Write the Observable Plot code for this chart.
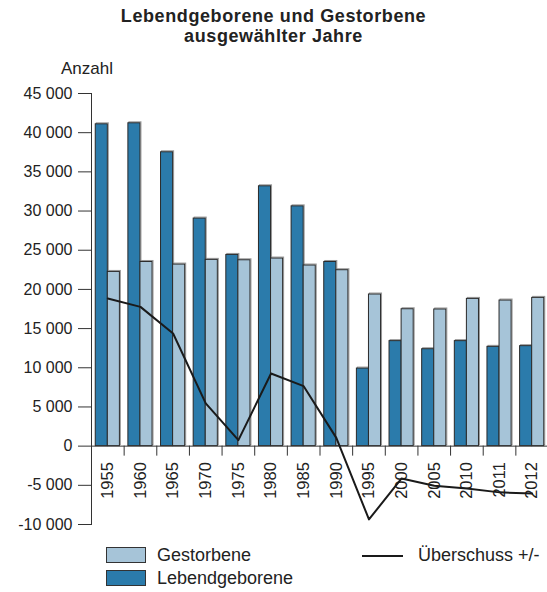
<!DOCTYPE html>
<html><head><meta charset="utf-8">
<script src="https://cdn.jsdelivr.net/npm/d3@7"></script>
<script src="https://cdn.jsdelivr.net/npm/@observablehq/plot@0.6"></script>
<style>
body{margin:0;background:#fff;font-family:"Liberation Sans",Arial,sans-serif;color:#222;}
#wrap{position:relative;width:547px;height:592px;overflow:hidden;}
#chart{position:absolute;left:0;top:0;}
#title{position:absolute;left:0;width:547px;top:6px;text-align:center;font-weight:bold;font-size:18px;letter-spacing:0.6px;line-height:20px;}
#anzahl{position:absolute;left:61px;top:59px;font-size:17px;}
.lg{position:absolute;font-size:18px;line-height:20px;}
.sw{position:absolute;width:40px;height:16px;border:1px solid #333;box-sizing:border-box;}
.ln{position:absolute;width:41px;height:0;border-top:2px solid #1a1a1a;}
</style></head><body>
<div id="wrap">
<div id="chart"></div>
<div id="title">Lebendgeborene und Gestorbene<br>ausgewählter Jahre</div>
<div id="anzahl">Anzahl</div>
<div class="sw" style="left:106px;top:547px;background:#a6c4d8"></div>
<div class="lg" style="left:157px;top:545px">Gestorbene</div>
<div class="sw" style="left:106px;top:570px;background:#2b7bab"></div>
<div class="lg" style="left:157px;top:568px">Lebendgeborene</div>
<div class="ln" style="left:362px;top:555px"></div>
<div class="lg" style="left:418px;top:545px">Überschuss +/-</div>
</div>
<script>
const years = ["1955","1960","1965","1970","1975","1980","1985","1990","1995","2000","2005","2010","2011","2012"];
const lebendgeborene = [41070,41200,37500,29040,24400,33160,30600,23500,9900,13400,12370,13400,12670,12760];
const gestorbene = [22230,23500,23170,23770,23720,23940,23050,22450,19350,17470,17440,18790,18580,18920];
const ueberschuss = [18840,17770,14370,5450,770,9270,7650,1050,-9350,-4120,-5060,-5400,-5900,-6040];
const yTicks = [-10000,-5000,0,5000,10000,15000,20000,25000,30000,35000,40000,45000];

const births = years.map((y,i)=>({year:y, value:lebendgeborene[i]}));
const deaths = years.map((y,i)=>({year:y, value:gestorbene[i]}));
const surplus = years.map((y,i)=>({year:y, value:ueberschuss[i]}));

const W=547, H=592, mL=91, mR=-1, mT=93, mB=68;
const pad = 0.26;
const step = (W-mL-mR)/years.length;
const bw = step*(1-pad);
const fmt = d => (d<0?"-":"") + d3.format(",")(Math.abs(d)).replace(/,/g," ");

const chart = Plot.plot({
  width: W, height: H,
  marginLeft: mL, marginRight: mR, marginTop: mT, marginBottom: mB,
  style: {fontFamily: '"Liberation Sans", Arial, sans-serif', fontSize: "16px", color: "#222", background: "transparent", overflow: "visible"},
  x: {type: "band", domain: years, paddingInner: pad, paddingOuter: pad/2, round: false, axis: null},
  y: {domain: [-10000, 45000], axis: null},
  marks: [
    Plot.barY(births, {x: "year", y: "value", fill: "none", stroke: "#999", strokeWidth: 1, insetRight: bw/2, dx: 1, dy: -1}),
    Plot.barY(deaths, {x: "year", y: "value", fill: "none", stroke: "#999", strokeWidth: 1, insetLeft: bw/2, dx: 1, dy: -1}),
    Plot.barY(births, {x: "year", y: "value", fill: "#2b7bab", stroke: "#2a2a2a", strokeWidth: 1, insetRight: bw/2}),
    Plot.barY(deaths, {x: "year", y: "value", fill: "#a6c4d8", stroke: "#2a2a2a", strokeWidth: 1, insetLeft: bw/2}),
    Plot.ruleY([0], {stroke: "#333", strokeWidth: 1}),
    Plot.ruleX(years, {x: d => d, y1: 0, y2: 0, insetBottom: -10, dx: -step/2, stroke: "#333"}),
    Plot.text(years, {x: d => d, y: 0, text: d => d, rotate: -90, textAnchor: "end", dy: 16, fontSize: 16.5, fill: "#222"}),
    Plot.line(surplus, {x: "year", y: "value", stroke: "#1a1a1a", strokeWidth: 2}),
    Plot.axisY({ticks: yTicks, tickSize: 13, tickPadding: 6, tickFormat: fmt, fontSize: 16, anchor: "left", label: null, stroke: "#333", fill: "#222"}),
    Plot.frame({anchor: "left", stroke: "#333"})
  ]
});
document.getElementById("chart").appendChild(chart);
</script>
</body></html>
